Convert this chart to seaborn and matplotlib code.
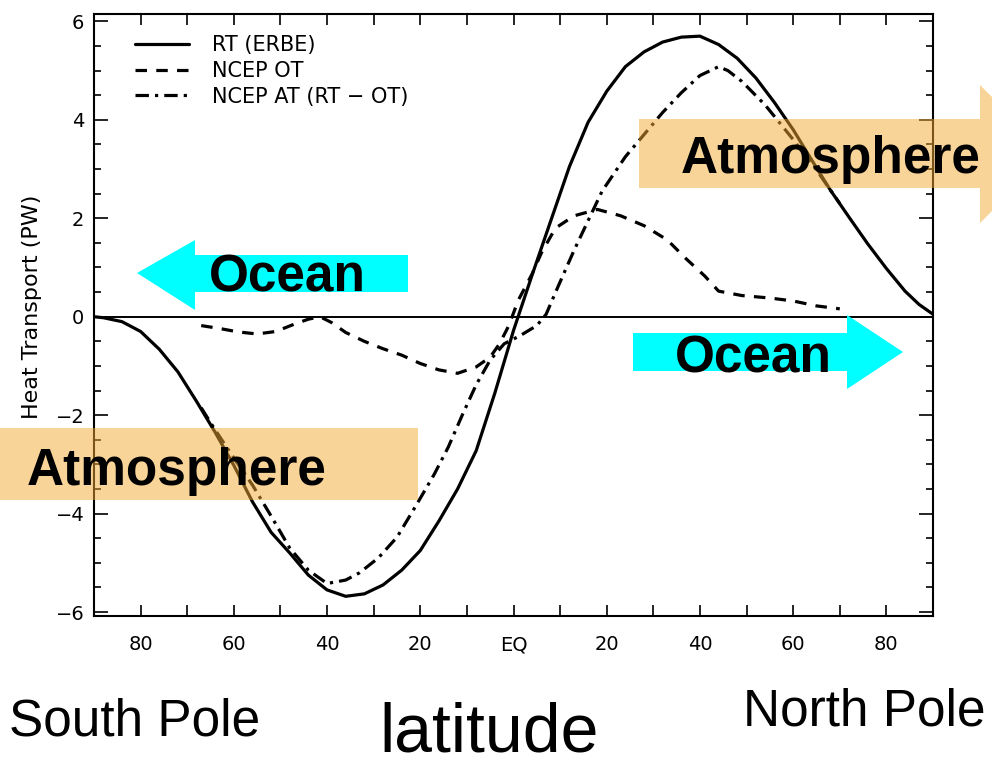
import matplotlib
matplotlib.use("Agg")
import matplotlib.pyplot as plt
import numpy as np
import pandas as pd
import seaborn as sns
from matplotlib.patches import Polygon
from matplotlib.ticker import MultipleLocator

# Northward heat transport (PW) versus latitude (negative = southern hemisphere)
rt_lat = [-90, -88, -84, -80, -76, -72, -68, -64, -60, -56, -52, -48, -44, -40,
          -36, -32, -28, -24, -20, -16, -12, -8, -4, 0, 4, 8, 12, 16, 20, 24,
          28, 32, 36, 40, 44, 48, 52, 56, 60, 64, 68, 72, 76, 80, 84, 87, 90]
rt_pw = [0.0, -0.02, -0.10, -0.30, -0.66, -1.12, -1.72, -2.35, -3.02, -3.76,
         -4.38, -4.80, -5.25, -5.55, -5.68, -5.63, -5.45, -5.15, -4.75, -4.15,
         -3.50, -2.72, -1.55, -0.28, 0.85, 1.95, 3.05, 3.95, 4.58, 5.08, 5.38,
         5.58, 5.68, 5.70, 5.53, 5.25, 4.85, 4.35, 3.80, 3.18, 2.57, 2.02, 1.48,
         0.98, 0.52, 0.25, 0.05]

ot_lat = [-67, -63, -59, -55, -51, -47, -44, -41.5, -39, -36, -32, -28, -24,
          -20, -16, -12, -8, -5, -3, -1, 1, 4, 6, 9, 13, 18, 23, 28, 33, 37,
          41, 44, 49, 55, 60, 65, 70]
ot_pw = [-0.18, -0.24, -0.31, -0.35, -0.30, -0.15, -0.05, 0.0, -0.12, -0.32,
         -0.50, -0.65, -0.78, -0.95, -1.08, -1.15, -1.02, -0.82, -0.55, -0.18,
         0.33, 0.87, 1.30, 1.80, 2.05, 2.18, 2.05, 1.85, 1.56, 1.18, 0.83, 0.52,
         0.43, 0.38, 0.32, 0.22, 0.16]

at_lat = [-67, -64, -60, -56, -52, -48, -44, -40, -36, -33, -29, -25, -21, -17,
          -14, -11, -8, -5, -2, 1.5, 5, 7, 9.5, 13, 16, 19, 24, 28, 32, 36, 40,
          44, 46, 49, 54, 60, 65, 70]
at_pw = [-1.85, -2.30, -2.87, -3.42, -4.05, -4.70, -5.15, -5.42, -5.35, -5.20,
         -4.90, -4.48, -3.85, -3.20, -2.65, -2.00, -1.38, -0.88, -0.55, -0.38,
         -0.18, 0.05, 0.60, 1.35, 1.95, 2.55, 3.25, 3.70, 4.15, 4.55, 4.90,
         5.08, 5.00, 4.78, 4.30, 3.60, 2.98, 2.30]

series_labels = ["RT (ERBE)", "NCEP OT", "NCEP AT (RT \u2212 OT)"]
xtick_pos = [-80, -60, -40, -20, 0, 20, 40, 60, 80]
xtick_labels = ["80", "60", "40", "20", "EQ", "20", "40", "60", "80"]
ytick_pos = [-6, -4, -2, 0, 2, 4, 6]

sns.set_style("ticks")
plt.rcParams["font.family"] = ["DejaVu Sans"]
plt.rcParams.update({"text.color": "black", "axes.labelcolor": "black",
                     "xtick.color": "black", "ytick.color": "black",
                     "axes.edgecolor": "black"})

W, H = 992, 767
fig = plt.figure(figsize=(W / 100, H / 100), dpi=100)
ax = fig.add_axes([94 / W, 1 - 616 / H, (933 - 94) / W, (616 - 14) / H])

ax.axhline(0, color="black", lw=1.4, zorder=1)

rt = pd.DataFrame({"lat": rt_lat, "pw": rt_pw})
ot = pd.DataFrame({"lat": ot_lat, "pw": ot_pw})
at = pd.DataFrame({"lat": at_lat, "pw": at_pw})

sns.lineplot(data=rt, x="lat", y="pw", ax=ax, color="black", lw=2.3,
             label=series_labels[0], zorder=3)
sns.lineplot(data=ot, x="lat", y="pw", ax=ax, color="black", lw=2.3,
             linestyle=(0, (3.6, 2.9)), label=series_labels[1], zorder=3)
sns.lineplot(data=at, x="lat", y="pw", ax=ax, color="black", lw=2.3,
             linestyle=(0, (4.2, 1.9, 1.0, 1.9)), label=series_labels[2], zorder=3)

ax.set_xlim(-90, 90)
ax.set_ylim(-6.08, 6.15)
ax.set_xticks(xtick_pos)
ax.set_xticklabels(xtick_labels)
ax.set_yticks(ytick_pos)
ax.set_yticklabels([f"{v}".replace("-", "\u2212") for v in ytick_pos])
ax.xaxis.set_minor_locator(MultipleLocator(10))
ax.yaxis.set_minor_locator(MultipleLocator(0.5))
ax.tick_params(which="both", direction="in", top=True, right=True,
               color="black", width=1.2, labelsize=14, labelcolor="black")
ax.tick_params(axis="x", which="both", length=8, pad=14)
ax.tick_params(axis="y", which="major", length=10, pad=7)
ax.tick_params(axis="y", which="minor", length=5)
for s in ax.spines.values():
    s.set_linewidth(1.5)
    s.set_color("black")

ax.set_xlabel("")
ax.set_ylabel("Heat Transport (PW)", fontsize=16, color="black")
ax.yaxis.set_label_coords(-0.062, 0.513)

ax.legend(loc="upper left", bbox_to_anchor=(0.049, 0.965), frameon=False,
          fontsize=15, handlelength=2.6, handletextpad=1.1, labelspacing=0.28,
          borderpad=0, borderaxespad=0)


def to_fig(pts):
    return [(x / W, 1 - y / H) for x, y in pts]


def arrow(pts, **kw):
    fig.add_artist(Polygon(to_fig(pts), closed=True, transform=fig.transFigure,
                           linewidth=0, **kw))


def label(x, y, s, **kw):
    fig.text(x / W, 1 - y / H, s, ha="center", va="baseline", color="black",
             family="Liberation Sans", zorder=10, **kw)


orange = "#F5AA32"
cyan = "#00FFFF"

# Atmosphere transport: poleward in both hemispheres
arrow([(639, 119), (980, 119), (980, 85), (1049, 154), (980, 223), (980, 188),
       (639, 188)], facecolor=orange, alpha=0.5, zorder=5)
arrow([(418, 428), (-5, 428), (-5, 500), (418, 500)],
      facecolor=orange, alpha=0.5, zorder=5)

# Ocean transport
arrow([(408, 255), (195, 255), (195, 240), (137, 273), (195, 310), (195, 292),
       (408, 292)], facecolor=cyan, zorder=5)
arrow([(633, 333), (847, 333), (847, 315), (903, 352), (847, 389), (847, 371),
       (633, 371)], facecolor=cyan, zorder=5)

label(831, 173, "Atmosphere", fontsize=37, fontweight="bold")
label(177, 485, "Atmosphere", fontsize=37, fontweight="bold")
label(287, 292, "Ocean", fontsize=37, fontweight="bold")
label(753, 372, "Ocean", fontsize=37, fontweight="bold")

label(135, 736, "South Pole", fontsize=37)
label(864, 726, "North Pole", fontsize=37)
label(489, 751, "latitude", fontsize=49)

fig.savefig("out.png", dpi=100)
